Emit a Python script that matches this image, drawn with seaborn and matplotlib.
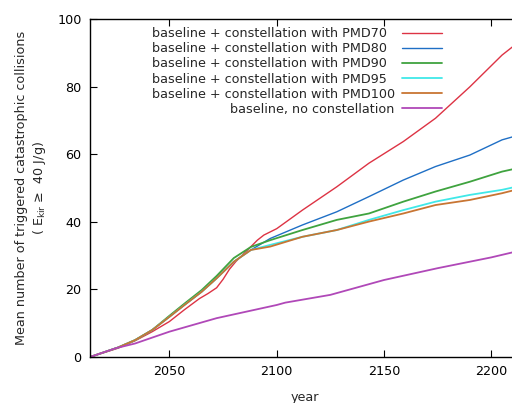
import numpy as np
import pandas as pd
import matplotlib
matplotlib.use("Agg")
import matplotlib.pyplot as plt
import seaborn as sns

# values
years_early = [2013, 2026, 2034, 2042, 2050, 2057, 2065, 2072, 2080, 2088]
common_early = [0, 2.8, 5.0, 8.0, 11.9, 15.4, 19.3, 23.3, 28.2, 31.7]

years_late = [2097, 2112, 2128, 2143, 2159, 2174, 2190, 2205, 2210]
pmd80_late = [35.1, 39.1, 43.0, 47.5, 52.4, 56.4, 59.8, 64.3, 65.2]
pmd90_late = [34.6, 37.6, 40.6, 42.5, 46.0, 49.0, 51.9, 54.9, 55.6]
pmd95_late = [33.2, 35.6, 37.6, 40.6, 43.5, 46.0, 48.0, 49.5, 50.2]
pmd100_late = [32.7, 35.6, 37.6, 40.1, 42.5, 45.0, 46.5, 48.5, 49.3]
pmd90_early = [0, 2.8, 5.0, 8.0, 12.2, 15.8, 19.8, 24.0, 29.3, 32.6]

pmd70_years = [2013, 2026, 2034, 2042, 2050, 2057, 2064, 2068, 2072, 2075, 2078, 2081,
               2085, 2091, 2094, 2100, 2112, 2128, 2143, 2159, 2174, 2190, 2205, 2210]
pmd70_vals = [0, 2.6, 4.8, 7.5, 10.5, 14.0, 17.3, 18.8, 20.5, 23.0, 26.0, 28.3,
              30.8, 34.6, 36.1, 38.0, 43.5, 50.4, 57.4, 63.8, 70.7, 80.0, 89.4, 91.9]

base_years = [2013, 2025, 2034, 2050, 2072, 2100, 2104, 2125, 2150, 2175, 2200, 2210]
base_vals = [0, 2.6, 4.0, 7.5, 11.5, 15.4, 16.1, 18.4, 22.8, 26.3, 29.5, 31.0]

fs = "\u2007"  # figure space, keeps the five similar labels the same width
labels = ["baseline + constellation with PMD70" + fs,
          "baseline + constellation with PMD80" + fs,
          "baseline + constellation with PMD90" + fs,
          "baseline + constellation with PMD95" + fs,
          "baseline + constellation with PMD100",
          "baseline, no constellation"]
colors = ["#dd3344", "#1f6fc5", "#3fa33f", "#40e8e8", "#c87533", "#b048b8"]
widths = [1.0, 1.0, 1.3, 1.3, 1.3, 1.3]

series = [
    (pmd70_years, pmd70_vals),
    (years_early + years_late, common_early + pmd80_late),
    (years_early + years_late, pmd90_early + pmd90_late),
    (years_early + years_late, common_early + pmd95_late),
    (years_early + years_late, common_early + pmd100_late),
    (base_years, base_vals),
]

sns.set_style("ticks")
plt.rcParams["font.family"] = ["DejaVu Sans"]

fig = plt.figure(figsize=(5.12, 4.03), dpi=100)
ax = fig.add_axes([90 / 512, 1 - 357 / 403, 429.2 / 512, 337.7 / 403])

frames = []
for lab, (xs, ys) in zip(labels, series):
    frames.append(pd.DataFrame({"year": xs, "value": ys, "series": lab}))
df = pd.concat(frames, ignore_index=True)

for lab, col, lw in zip(labels, colors, widths):
    sns.lineplot(data=df[df["series"] == lab], x="year", y="value", color=col,
                 linewidth=lw, label=lab, ax=ax)

ax.set_xlim(2013, 2213)
ax.set_ylim(0, 100)
ax.set_xticks([2050, 2100, 2150, 2200])
ax.set_yticks([0, 20, 40, 60, 80, 100])
ax.tick_params(direction="in", length=5, width=0.8, labelsize=9.2, pad=6,
               top=True, colors="black")
for s in ax.spines.values():
    s.set_linewidth(1.0)
    s.set_color("black")
ax.set_xlabel("year", fontsize=9.2, labelpad=9)
ax.set_ylabel("Mean number of triggered catastrophic collisions\n"
              "( E$_\\mathregular{kir}$ \u2265  40 J/g)", fontsize=9.2, labelpad=6.5,
              linespacing=1.3)

ax.legend(loc="upper right", bbox_to_anchor=(442 / 512, 1 - 27 / 403),
          bbox_transform=fig.transFigure, frameon=False, markerfirst=False,
          fontsize=9.2, handlelength=3.1, handletextpad=0.6, labelspacing=0.17,
          borderpad=0, borderaxespad=0)

fig.savefig("out.png", dpi=100)
